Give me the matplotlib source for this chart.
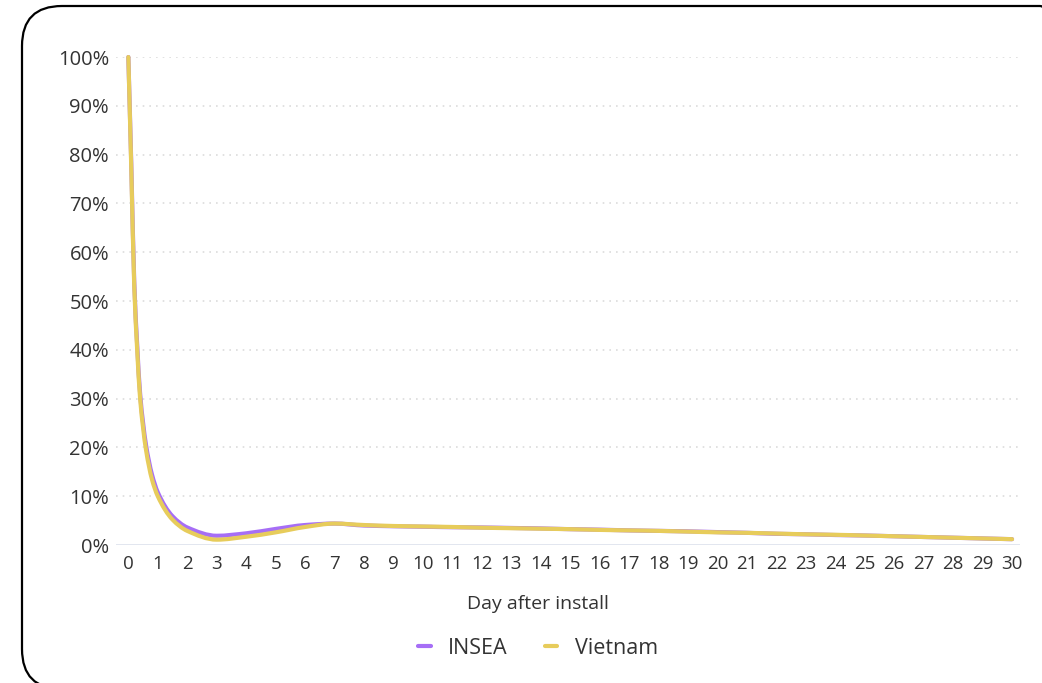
import matplotlib
matplotlib.use("Agg")
import matplotlib.pyplot as plt
import numpy as np
from matplotlib.path import Path
from matplotlib.patches import PathPatch, FancyBboxPatch
from matplotlib.lines import Line2D
from matplotlib.transforms import IdentityTransform
import matplotlib.ticker as mticker

# ── Data (retention %) ────────────────────────────────────────────────────────
days = [0, 0.1, 0.2, 0.3, 0.4, 0.6, 0.8, 1, 1.5, 2, 3, 4, 5, 6, 7, 8, 9, 10,
        11, 12, 13, 14, 15, 16, 17, 18, 19, 20, 21, 22, 23, 24, 25, 26, 27,
        28, 29, 30]
insea = [100, 78, 54, 41, 31, 20.5, 14.5, 10.8, 5.9, 3.6, 1.9, 2.4, 3.3, 4.1,
         4.4, 4.0, 3.85, 3.75, 3.65, 3.6, 3.5, 3.4, 3.25, 3.15, 3.0, 2.9, 2.8,
         2.65, 2.5, 2.3, 2.2, 2.05, 1.95, 1.8, 1.65, 1.5, 1.35, 1.2]
vietnam = [100, 77, 53, 40, 30, 19.5, 13.5, 10.0, 5.2, 2.9, 1.1, 1.7, 2.6, 3.7,
           4.4, 4.1, 3.9, 3.8, 3.7, 3.55, 3.45, 3.35, 3.25, 3.1, 3.0, 2.9, 2.75,
           2.6, 2.5, 2.35, 2.2, 2.1, 1.95, 1.8, 1.65, 1.5, 1.35, 1.2]
day_ticks = list(range(0, 31))
pct_ticks = list(range(0, 101, 10))

INSEA_COLOR = "#a66ef6"
VIETNAM_COLOR = "#e7cc5b"
TEXT_COLOR = "#333333"
FONT = "Open Sans"


def smooth_path(xs, ys):
    """Monotone cubic (Fritsch-Carlson) as a bezier path through the points."""
    x = np.asarray(xs, float)
    y = np.asarray(ys, float)
    h = np.diff(x)
    s = np.diff(y) / h
    m = np.zeros_like(y)
    m[0], m[-1] = s[0], s[-1]
    for i in range(1, len(y) - 1):
        if s[i - 1] * s[i] <= 0:
            m[i] = 0
        else:
            w1 = 2 * h[i] + h[i - 1]
            w2 = h[i] + 2 * h[i - 1]
            m[i] = (w1 + w2) / (w1 / s[i - 1] + w2 / s[i])
    verts = [(x[0], y[0])]
    codes = [Path.MOVETO]
    for i in range(len(h)):
        d = h[i] / 3
        verts += [(x[i] + d, y[i] + m[i] * d),
                  (x[i + 1] - d, y[i + 1] - m[i + 1] * d),
                  (x[i + 1], y[i + 1])]
        codes += [Path.CURVE4] * 3
    return Path(verts, codes)


fig = plt.figure(figsize=(10.42, 6.83), dpi=100, facecolor="white")
ax = fig.add_axes([0.1113, 0.2020, 0.8676, 0.7145])
ax.set_xlim(-0.42, 30.27)
ax.set_ylim(0, 100)

for xs, ys, col in [(days, insea, INSEA_COLOR), (days, vietnam, VIETNAM_COLOR)]:
    patch = PathPatch(smooth_path(xs, ys), facecolor="none", edgecolor=col,
                      linewidth=3.0, capstyle="round", joinstyle="round",
                      zorder=3, clip_on=False)
    ax.add_patch(patch)

# ── Axes ──────────────────────────────────────────────────────────────────────
ax.set_xticks(day_ticks)
ax.set_xticklabels([str(d) for d in day_ticks])
ax.set_yticks(pct_ticks)
ax.yaxis.set_major_formatter(mticker.FuncFormatter(lambda v, _: f"{int(v)}%"))
ax.tick_params(length=0, labelcolor=TEXT_COLOR)
ax.tick_params(axis="x", pad=7, labelsize=13.5)
ax.tick_params(axis="y", pad=5, labelsize=14.5)
for lab in ax.get_xticklabels() + ax.get_yticklabels():
    lab.set_fontfamily(FONT)

ax.yaxis.grid(True, color="#dcdcdc", linewidth=1.2, linestyle=(0, (1, 3)), zorder=0)
for gl in ax.get_ygridlines()[:1]:
    gl.set_visible(False)
for spine in ax.spines.values():
    spine.set_visible(False)
ax.axhline(0, color="#dfe4ee", linewidth=2, zorder=1)

ax.set_xlabel("Day after install", fontsize=14, color=TEXT_COLOR, fontfamily=FONT)
ax.xaxis.set_label_coords((538 - 116) / 904, -0.102)

handles = [Line2D([], [], color=INSEA_COLOR, linewidth=3, solid_capstyle="round"),
           Line2D([], [], color=VIETNAM_COLOR, linewidth=3, solid_capstyle="round")]
fig.legend(handles, ["INSEA", "Vietnam"], loc="center",
           bbox_to_anchor=(538 / 1042, 1 - 648 / 683), ncol=2, frameon=False,
           handlelength=0.6, handletextpad=0.8, columnspacing=1.7,
           prop={"family": FONT, "size": 15.5}, labelcolor=TEXT_COLOR)

# ── Rounded card border ───────────────────────────────────────────────────────
card = FancyBboxPatch((22, -6), 1058, 677 + 6, boxstyle="round,pad=0,rounding_size=40",
                      transform=IdentityTransform(), facecolor="none",
                      edgecolor="black", linewidth=1.6, zorder=10)
fig.add_artist(card)

fig.savefig("out.png", dpi=100, facecolor="white")
